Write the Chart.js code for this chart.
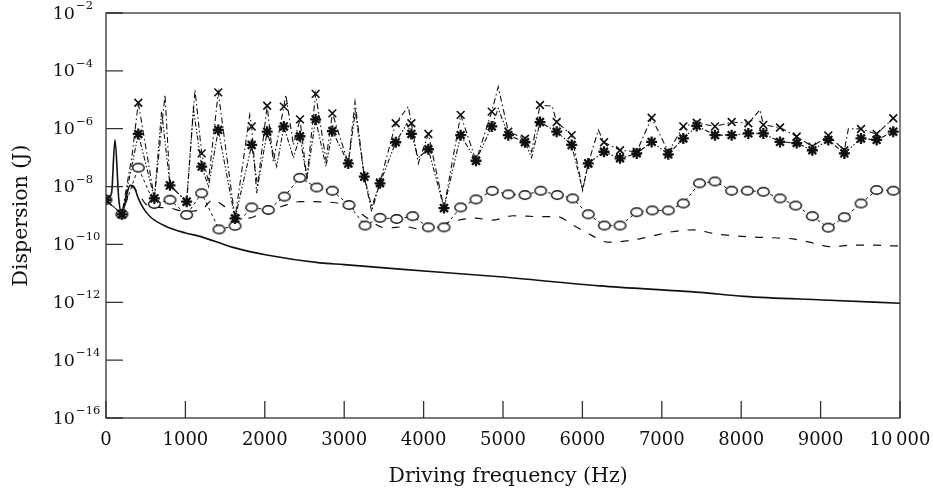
<!DOCTYPE html>
<html>
<head>
<meta charset="utf-8">
<script src="https://cdn.jsdelivr.net/npm/chart.js@4.4.1/dist/chart.umd.min.js"></script>
<style>
  html, body { margin: 0; padding: 0; background: #fff; }
</style>
</head>
<body>
<canvas id="grafik" width="933" height="493"></canvas>
<script>
// ── VERI ──
// Eksen
const xTicks = [0, 1000, 2000, 3000, 4000, 5000, 6000, 7000, 8000, 9000, 10000]
const xTickLabels = ['0', '1000', '2000', '3000', '4000', '5000', '6000', '7000', '8000', '9000', '10\u2009000']
const yTickExps = [-16, -14, -12, -10, -8, -6, -4, -2]

// Duz cizgi (isaretsiz)
const aFreq = [0, 70, 113, 160, 200, 260, 302, 350, 407, 470, 560, 764, 1000, 1184, 1600, 2024, 2695, 3000, 3700, 4960, 6220, 7480, 8035, 9030, 10000]
const aVal = [3.5e-9, 6e-9, 4.1e-7, 4e-9, 1.1e-9, 5e-9, 1.1e-8, 1.0e-8, 3.9e-9, 1.8e-9, 8.9e-10, 4.1e-10, 2.5e-10, 1.9e-10, 7.9e-11, 4.3e-11, 2.3e-11, 2.0e-11, 1.4e-11, 7.6e-12, 3.7e-12, 2.2e-12, 1.6e-12, 1.2e-12, 9.3e-13]

// Kesikli cizgi (isaretsiz)
const bFreq = [0, 200, 320, 400, 500, 600, 800, 1000, 1200, 1350, 1500, 1800, 2000, 2200, 2440, 2570, 2910, 3140, 3530, 3770, 3990, 4360, 4650, 4860, 5130, 5470, 5690, 5880, 6110, 6320, 6630, 6860, 7130, 7410, 7670, 7910, 8150, 8390, 8650, 8890, 9140, 9420, 9690, 9910, 10000]
const bVal = [3.5e-9, 1.1e-9, 1.0e-8, 6.3e-9, 2.5e-9, 2.0e-9, 1.8e-9, 1.4e-9, 1.6e-9, 3.5e-9, 2.0e-9, 8.1e-10, 1.45e-9, 2.0e-9, 3.0e-9, 3.0e-9, 2.7e-9, 1.55e-9, 3.7e-10, 4.1e-10, 3.2e-10, 6.2e-10, 8.1e-10, 6.9e-10, 9.8e-10, 9.1e-10, 9.1e-10, 4.7e-10, 2.1e-10, 1.2e-10, 1.4e-10, 1.9e-10, 2.75e-10, 3.2e-10, 2.3e-10, 2.0e-10, 1.8e-10, 1.7e-10, 1.55e-10, 1.15e-10, 8.3e-11, 9.5e-11, 9.5e-11, 8.9e-11, 9e-11]

// Halkali seri
const cFreq = [0, 200, 407, 609, 806, 1016, 1205, 1423, 1625, 1835, 2044, 2246, 2440, 2654, 2851, 3060, 3262, 3451, 3661, 3862, 4060, 4257, 4467, 4660, 4865, 5067, 5277, 5475, 5684, 5877, 6074, 6276, 6474, 6684, 6880, 7082, 7271, 7475, 7670, 7880, 8077, 8279, 8489, 8686, 8896, 9097, 9299, 9509, 9706, 9915]
const cVal = [3.5e-9, 1.1e-9, 4.5e-8, 2.5e-9, 3.5e-9, 1.05e-9, 5.9e-9, 3.3e-10, 4.4e-10, 1.9e-9, 1.55e-9, 4.5e-9, 2.0e-8, 9.3e-9, 7.2e-9, 2.3e-9, 4.5e-10, 8.3e-10, 7.6e-10, 9.5e-10, 3.9e-10, 3.9e-10, 1.9e-9, 3.6e-9, 7.1e-9, 5.4e-9, 5.1e-9, 7.2e-9, 5.1e-9, 3.9e-9, 1.1e-9, 4.5e-10, 4.5e-10, 1.3e-9, 1.5e-9, 1.5e-9, 2.6e-9, 1.3e-8, 1.5e-8, 7.2e-9, 7.2e-9, 6.6e-9, 3.9e-9, 2.2e-9, 9.5e-10, 3.8e-10, 8.7e-10, 2.6e-9, 7.6e-9, 7.2e-9]

// Carpi isaretli seri: isaretler + aradaki tepeler
const dFreq = [0, 200, 407, 609, 806, 1016, 1205, 1414, 1625, 1835, 2030, 2240, 2443, 2640, 2851, 3052, 3253, 3451, 3649, 3846, 4060, 4257, 4467, 4660, 4858, 5067, 5277, 5466, 5676, 5865, 6074, 6272, 6474, 6684, 6872, 7082, 7271, 7440, 7670, 7880, 8090, 8279, 8489, 8699, 8896, 9097, 9299, 9509, 9706, 9915]
const dVal = [3.5e-9, 1.1e-9, 7.9e-6, 3.9e-9, 1.1e-8, 3.0e-9, 1.4e-7, 1.8e-5, 7.9e-10, 1.2e-6, 6.2e-6, 5.8e-6, 2.1e-6, 1.6e-5, 3.4e-6, 6.3e-8, 2.2e-8, 1.4e-8, 1.55e-6, 1.55e-6, 6.6e-7, 1.8e-9, 3.0e-6, 7.8e-8, 3.9e-6, 7.9e-7, 4.5e-7, 6.6e-6, 1.7e-6, 6.0e-7, 6.3e-8, 3.4e-7, 1.8e-7, 1.6e-7, 2.4e-6, 1.6e-7, 1.2e-6, 1.6e-6, 1.2e-6, 1.7e-6, 1.55e-6, 1.35e-6, 1.1e-6, 5.4e-7, 2.4e-7, 5.8e-7, 1.8e-7, 9.8e-7, 6.6e-7, 2.3e-6]
const dPeakFreq = [330, 743, 1121, 1290, 1810, 1898, 2107, 2265, 2360, 2530, 2771, 3136, 3346, 3807, 3933, 4940, 5360, 5620, 6003, 6200, 8237, 9350]
const dPeakVal = [1.3e-7, 1.5e-5, 2.2e-5, 1.5e-8, 3.0e-6, 5.9e-9, 7.2e-8, 1.5e-5, 2.75e-7, 1.9e-8, 8.3e-8, 8.5e-6, 1.35e-9, 5.8e-6, 6.3e-8, 2.8e-5, 1.6e-7, 6.0e-6, 7.6e-9, 9.0e-7, 4.5e-6, 1.0e-6]

// Yildiz isaretli seri: isaretler + aradaki tepeler
const eFreq = dFreq
const eVal = [3.5e-9, 1.1e-9, 6.6e-7, 3.9e-9, 1.1e-8, 3.0e-9, 4.9e-8, 9.1e-7, 7.9e-10, 2.75e-7, 7.9e-7, 1.2e-6, 5.5e-7, 2.1e-6, 8.3e-7, 6.3e-8, 2.2e-8, 1.3e-8, 3.4e-7, 6.6e-7, 1.95e-7, 1.8e-9, 6.0e-7, 7.8e-8, 1.2e-6, 6.0e-7, 3.4e-7, 1.7e-6, 7.9e-7, 2.75e-7, 6.3e-8, 1.6e-7, 9.5e-8, 1.4e-7, 3.5e-7, 1.3e-7, 4.6e-7, 1.25e-6, 6.0e-7, 6.0e-7, 6.9e-7, 6.9e-7, 3.5e-7, 3.2e-7, 1.8e-7, 4.1e-7, 1.4e-7, 4.6e-7, 4.1e-7, 7.9e-7]
const ePeakFreq = [330, 700, 1100, 1290, 1910, 2150, 2360, 2530, 2771, 3140, 3346, 3790, 3933, 4940, 5360, 6003]
const ePeakVal = [6e-8, 4e-6, 5e-6, 1e-8, 1e-8, 4.9e-8, 1e-7, 1.9e-8, 5e-8, 4e-6, 2e-9, 1.5e-6, 1e-7, 5e-6, 1e-7, 7.6e-9]

// ── YARDIMCI ──
const noktalar = (fs, vs) => fs.map((f, i) => ({ x: f, y: vs[i] }))
const birlesik = (f1, v1, f2, v2) => noktalar(f1, v1).concat(noktalar(f2, v2)).sort((p, q) => p.x - q.x)

const SERIF = '"DejaVu Serif", serif'
const MUREKKEP = '#111'

// Halka isareti (biraz yassi)
function elips() {
  const c = document.createElement('canvas')
  c.width = 15; c.height = 12
  const g = c.getContext('2d')
  g.beginPath()
  g.ellipse(7.5, 6, 5.8, 4.3, 0, 0, Math.PI * 2)
  g.fillStyle = '#fff'
  g.fill()
  g.lineWidth = 1.4
  g.strokeStyle = MUREKKEP
  g.stroke()
  return c
}

// Cerceve, ice bakan tikler ve ust simgeli etiketler
const cerceve = {
  id: 'cerceve',
  afterDraw(chart) {
    const { ctx, chartArea: a, scales: { x, y } } = chart
    ctx.save()
    ctx.strokeStyle = '#333'
    ctx.lineWidth = 1.3
    ctx.strokeRect(a.left, a.top, a.right - a.left, a.bottom - a.top)
    ctx.beginPath()
    xTicks.forEach(v => {
      const px = x.getPixelForValue(v)
      ctx.moveTo(px, a.bottom)
      ctx.lineTo(px, a.bottom - 17)
    })
    yTickExps.forEach(e => {
      const py = y.getPixelForValue(Math.pow(10, e))
      ctx.moveTo(a.left, py)
      ctx.lineTo(a.left + 17, py)
    })
    ctx.stroke()

    ctx.fillStyle = MUREKKEP
    ctx.textBaseline = 'middle'
    ctx.font = '18px ' + SERIF
    ctx.textAlign = 'center'
    xTicks.forEach((v, i) => ctx.fillText(xTickLabels[i], x.getPixelForValue(v), a.bottom + 22))

    yTickExps.forEach(e => {
      const py = y.getPixelForValue(Math.pow(10, e))
      ctx.font = '17.5px ' + SERIF
      ctx.textAlign = 'right'
      ctx.fillText('10', a.left - 31, py + 1)
      ctx.font = '11.5px ' + SERIF
      ctx.textAlign = 'left'
      ctx.fillText('\u2212' + Math.abs(e), a.left - 30, py - 7)
    })
    ctx.restore()
  }
}

// ── CIZIM ──
new Chart(document.getElementById('grafik'), {
  type: 'line',
  data: {
    datasets: [
      {
        data: noktalar(dFreq, dVal), showLine: false,
        pointStyle: 'crossRot', pointRadius: 5.5, borderColor: MUREKKEP, pointBorderWidth: 1.6
      },
      {
        data: noktalar(eFreq, eVal), showLine: false,
        pointStyle: 'star', pointRadius: 5.5, borderColor: MUREKKEP, pointBorderWidth: 2.3
      },
      {
        data: noktalar(cFreq, cVal), borderColor: MUREKKEP, borderWidth: 1, borderDash: [3, 3],
        pointStyle: elips(), pointRadius: 6
      },
      {
        data: birlesik(dFreq, dVal, dPeakFreq, dPeakVal), borderColor: MUREKKEP, borderWidth: 1.1,
        borderDash: [6, 3, 1.5, 3], pointRadius: 0
      },
      {
        data: birlesik(eFreq, eVal, ePeakFreq, ePeakVal), borderColor: MUREKKEP, borderWidth: 1.1,
        borderDash: [5, 2, 1.5, 2, 1.5, 2], pointRadius: 0
      },
      {
        data: noktalar(bFreq, bVal), borderColor: MUREKKEP, borderWidth: 1.2, borderDash: [8, 9],
        pointRadius: 0, cubicInterpolationMode: 'monotone'
      },
      {
        data: noktalar(aFreq, aVal), borderColor: MUREKKEP, borderWidth: 1.6,
        pointRadius: 0, cubicInterpolationMode: 'monotone'
      }
    ]
  },
  options: {
    responsive: false,
    animation: false,
    layout: { padding: { left: 0, top: 13, right: 33, bottom: 0 } },
    plugins: { legend: { display: false }, tooltip: { enabled: false } },
    scales: {
      x: {
        type: 'linear', min: 0, max: 10000,
        ticks: { display: false }, grid: { display: false }, border: { display: false },
        title: { display: true, text: '\u2002Driving frequency (Hz)', color: MUREKKEP, font: { family: SERIF, size: 20.5 }, padding: { top: 0, bottom: 4 } },
        afterFit: s => { s.height = 75 }
      },
      y: {
        type: 'logarithmic', min: 1e-16, max: 1e-2,
        ticks: { display: false }, grid: { display: false }, border: { display: false },
        title: { display: true, text: 'Dispersion (J)', color: MUREKKEP, font: { family: SERIF, size: 20.5 }, padding: { top: 9, bottom: 0 } },
        afterFit: s => { s.width = 106 }
      }
    }
  },
  plugins: [cerceve]
})
</script>
</body>
</html>
